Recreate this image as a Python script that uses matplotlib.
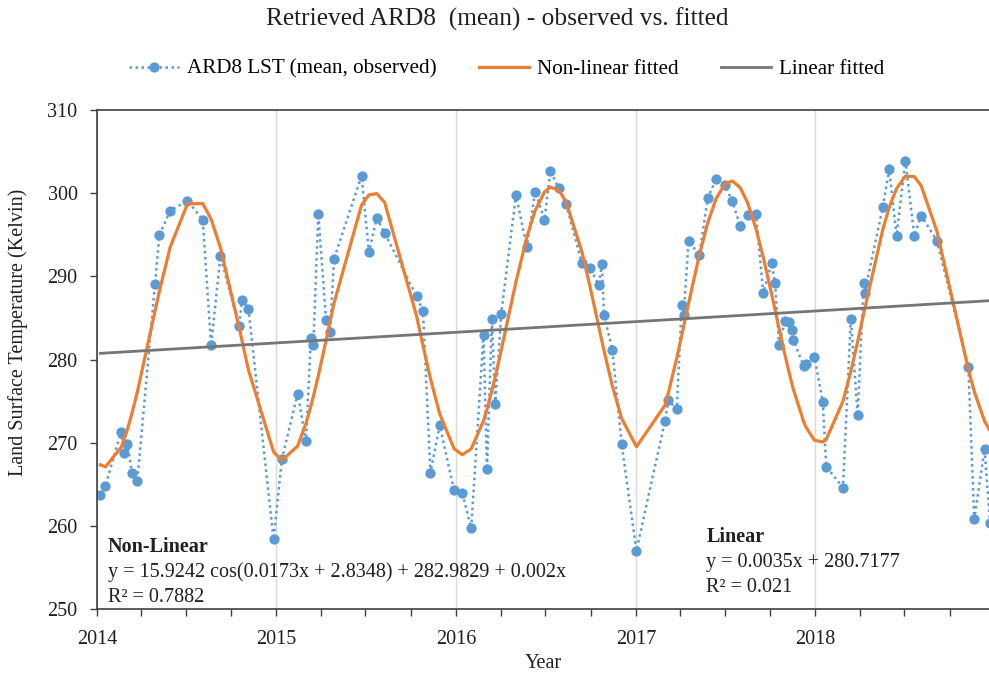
import numpy as np
import pandas as pd
import matplotlib
matplotlib.use("Agg")
import matplotlib.pyplot as plt
import matplotlib.dates as mdates

plt.rcParams['font.family'] = ['Liberation Serif', 'DejaVu Serif']

# observation dates and mean land surface temperature (K)
obs_dates = [
    '2014-01-08', '2014-01-18', '2014-02-19', '2014-02-25', '2014-03-04', '2014-03-13',
    '2014-03-24', '2014-04-29', '2014-05-08', '2014-05-30', '2014-07-04', '2014-08-04',
    '2014-08-21', '2014-09-09', '2014-10-17', '2014-10-23', '2014-11-05', '2014-12-26',
    '2015-01-12', '2015-02-13', '2015-03-02', '2015-03-12', '2015-03-17', '2015-03-27',
    '2015-04-12', '2015-04-20', '2015-04-28', '2015-06-23', '2015-07-08', '2015-07-24',
    '2015-08-09', '2015-10-13', '2015-10-26', '2015-11-10', '2015-11-29', '2015-12-28',
    '2016-01-14', '2016-02-01', '2016-02-26', '2016-03-04', '2016-03-14', '2016-03-21',
    '2016-04-02', '2016-05-02', '2016-05-24', '2016-06-10', '2016-06-29', '2016-07-11',
    '2016-07-28', '2016-08-12', '2016-09-13', '2016-09-30', '2016-10-17', '2016-10-24',
    '2016-10-28', '2016-11-14', '2016-12-03', '2017-01-02',
    '2017-03-01', '2017-03-08', '2017-03-25', '2017-04-04', '2017-04-08', '2017-04-18',
    '2017-05-10', '2017-05-27', '2017-06-13', '2017-07-01', '2017-07-16', '2017-08-01',
    '2017-08-16', '2017-09-02', '2017-09-17', '2017-10-04', '2017-10-11', '2017-10-19',
    '2017-10-31', '2017-11-09', '2017-11-15', '2017-11-17', '2017-12-08', '2017-12-13',
    '2017-12-30',
    '2018-01-16', '2018-01-23', '2018-02-26', '2018-03-14', '2018-03-28', '2018-04-09',
    '2018-04-11', '2018-05-18', '2018-05-31', '2018-06-15', '2018-07-03', '2018-07-21',
    '2018-08-04', '2018-09-05', '2018-11-08', '2018-11-20', '2018-12-11', '2018-12-22',
]
lst_mean = [
    263.7, 264.8, 271.3, 268.7, 269.8, 266.4,
    265.4, 289.1, 295.0, 297.9, 299.1, 296.8,
    281.7, 292.4, 284.0, 287.2, 286.1, 258.4,
    268.0, 275.9, 270.2, 282.6, 281.7, 297.5,
    284.7, 283.3, 292.1, 302.1, 292.9, 297.0,
    295.2, 287.6, 285.8, 266.4, 272.1, 264.3,
    263.9, 259.7, 283.0, 266.8, 284.9, 274.6,
    285.5, 299.8, 293.5, 300.2, 296.8, 302.7,
    300.6, 298.7, 291.6, 291.0, 289.0, 291.5,
    285.4, 281.2, 269.8, 257.0,
    272.6, 275.1, 274.0, 286.5, 285.3, 294.2,
    292.6, 299.4, 301.7, 301.0, 299.0, 296.1,
    297.4, 297.5, 288.0, 291.6, 289.2, 281.7,
    284.6, 284.5, 283.6, 282.4, 279.2, 279.4,
    280.3,
    274.9, 267.1, 264.6, 284.9, 273.3, 289.2,
    288.0, 298.3, 302.9, 294.9, 303.9, 294.9,
    297.3, 294.3, 279.1, 260.8, 269.2, 260.4,
]

# fit coefficients (x = days since 2014-01-01)
nl_amp, nl_freq, nl_phase, nl_off, nl_trend, nl_r2 = 15.9242, 0.0173, 2.8348, 282.9829, 0.002, 0.7882
lin_slope, lin_icpt, lin_r2 = 0.0035, 280.7177, 0.021

dates = pd.to_datetime(obs_dates)
days = (dates - pd.Timestamp('2014-01-01')).days.values.astype(float)
nonlin = nl_amp * np.cos(nl_freq * days + nl_phase) + nl_off + nl_trend * days
lin = lin_slope * days + lin_icpt

fs = 14.5
txt_color = '#202020'

fig = plt.figure(figsize=(9.89, 6.75), dpi=100)
ax = fig.add_axes([97 / 989, 1 - 609 / 675, 1 - 97 / 989, (609 - 110) / 675])

obs_line, = ax.plot(dates, lst_mean, color='#5B9BD5', linestyle=(0, (1, 1.4)), linewidth=1.8,
                    marker='o', markersize=7.4, markeredgewidth=0, zorder=2,
                    label='ARD8 LST (mean, observed)')
nl_line, = ax.plot(dates, nonlin, color='#ED7D31', linewidth=2.3, zorder=3,
                   label='Non-linear fitted')
lin_line, = ax.plot(dates[[0, -1]], lin[[0, -1]], color='#767676', linewidth=2.0, zorder=3,
                    label='Linear fitted')

ax.set_xlim(pd.Timestamp('2014-01-01'), pd.Timestamp('2018-12-20'))
ax.set_ylim(250, 310)
ax.set_yticks(np.arange(250, 311, 10))

ax.xaxis.set_major_locator(mdates.YearLocator())
ax.xaxis.set_major_formatter(mdates.DateFormatter('%Y'))
ax.xaxis.set_minor_locator(mdates.MonthLocator(bymonth=[1, 4, 7, 10]))
ax.grid(axis='x', which='major', color='#D9D9D9', linewidth=1.0)
ax.set_axisbelow(True)

ax.tick_params(axis='both', which='both', direction='out', length=5, width=1, color='#404040',
               labelsize=fs, labelcolor=txt_color)
ax.tick_params(axis='x', which='major', pad=10)
ax.tick_params(axis='y', pad=9)
for s in ['left', 'bottom', 'top']:
    ax.spines[s].set_color('#404040')
    ax.spines[s].set_linewidth(1.2)
ax.spines['right'].set_visible(False)

ax.set_ylabel('Land Surface Temperature (Kelvin)', fontsize=fs, color=txt_color)
ax.yaxis.set_label_coords(-0.077, 0.555)
ax.set_xlabel('Year', fontsize=fs, color=txt_color)
ax.xaxis.set_label_coords(0.5, -0.09)

fig.text(0.503, 1 - 19 / 675, 'Retrieved ARD8  (mean) - observed vs. fitted', ha='center', va='center',
         fontsize=18.3, color=txt_color)

fig.legend(handles=[obs_line, nl_line, lin_line], loc='center', bbox_to_anchor=(0.512, 1 - 69 / 675),
           ncol=3, frameon=False, fontsize=15.2, handlelength=2.4, handletextpad=0.35,
           columnspacing=2.0)

# fit equations
ax.text(0.012, 0.124, 'Non-Linear', transform=ax.transAxes, fontsize=fs, fontweight='bold',
        va='center', color=txt_color)
ax.text(0.012, 0.073, 'y = %.4f cos(%.4fx + %.4f) + %.4f + %gx' % (nl_amp, nl_freq, nl_phase, nl_off, nl_trend),
        transform=ax.transAxes, fontsize=fs, va='center', color=txt_color)
ax.text(0.012, 0.023, 'R² = %.4f' % nl_r2, transform=ax.transAxes, fontsize=fs, va='center',
        color=txt_color)

ax.text(0.683, 0.144, 'Linear', transform=ax.transAxes, fontsize=fs, fontweight='bold',
        va='center', color=txt_color)
ax.text(0.683, 0.093, 'y = %.4fx + %.4f' % (lin_slope, lin_icpt), transform=ax.transAxes,
        fontsize=fs, va='center', color=txt_color)
ax.text(0.683, 0.043, 'R² = %g' % lin_r2, transform=ax.transAxes, fontsize=fs, va='center',
        color=txt_color)

fig.savefig('out.png', dpi=100)
